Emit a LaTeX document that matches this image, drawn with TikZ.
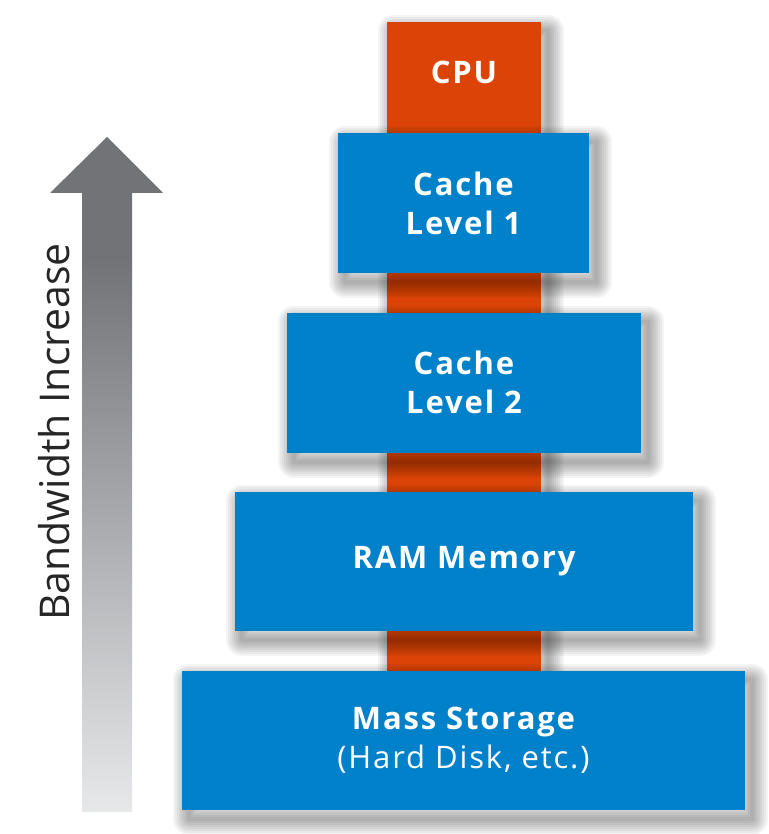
\documentclass[tikz,border=0pt]{standalone}
\usepackage{fontspec}
\setmainfont{Open Sans}
\newfontfamily\boxfont[LetterSpace=6]{Open Sans}
\definecolor{boxblue}{HTML}{0081CA}
\definecolor{cpuorange}{HTML}{DB4406}
\definecolor{darkg}{HTML}{727377}
\definecolor{lightg}{HTML}{E7E8EA}
\pgfdeclareverticalshading{arrowshade}{100bp}{color(0bp)=(lightg); color(25bp)=(lightg); color(66bp)=(darkg); color(100bp)=(darkg)}
\tikzset{
  shlayer/.style={preaction={draw=black, draw opacity=0.045, line width=#1, line join=round,
     transform canvas={shift={(7pt,-9pt)}}}},
  softshadow/.style={shlayer=4pt, shlayer=8pt, shlayer=12pt, shlayer=16pt, shlayer=20pt,
     shlayer=24pt, shlayer=28pt, shlayer=32pt},
  membox/.style={rectangle, fill=boxblue, text=white, minimum height=140pt, inner sep=0pt, align=center,
    font=\boxfont\fontsize{31}{39}\selectfont\bfseries, softshadow},
  cpubar/.style={rectangle, fill=cpuorange, minimum width=154pt, inner sep=0pt, softshadow},
  cputext/.style={text=white, font=\boxfont\fontsize{31}{39}\selectfont\bfseries, inner sep=0pt},
  sidelabel/.style={rotate=90, font=\fontsize{41}{48}\selectfont, text=black!85, inner sep=0pt}
}
\begin{document}
\begin{tikzpicture}[x=1pt,y=-1pt]
\useasboundingbox (0,0) rectangle (768,834);
\fill[white] (0,0) rectangle (768,834);
% bandwidth arrow
\path[shading=arrowshade] (82,812) -- (82,193) -- (50,193) -- (107,137) -- (163,193) -- (132,193) -- (132,812) -- cycle;
\node[sidelabel] (bw) at (54,432) {Bandwidth Increase};
% CPU bar
\node[cpubar, minimum height=678pt] (cpu) at (464,361) {};
\node[cputext] (cput) at (464,72) {CPU};
% memory levels
\node[membox, minimum width=251pt] (l1) at (463.5,203) {Cache\\Level 1};
\node[membox, minimum width=354pt] (l2) at (464,382.5) {Cache\\Level 2};
\node[membox, minimum width=458pt, minimum height=139pt] (ram) at (464,561.5) {RAM Memory};
\node[membox, minimum width=563pt, minimum height=139pt] (mass) at (463.5,740.5) {Mass Storage\\{\mdseries (Hard Disk, etc.)}};
\end{tikzpicture}
\end{document}
